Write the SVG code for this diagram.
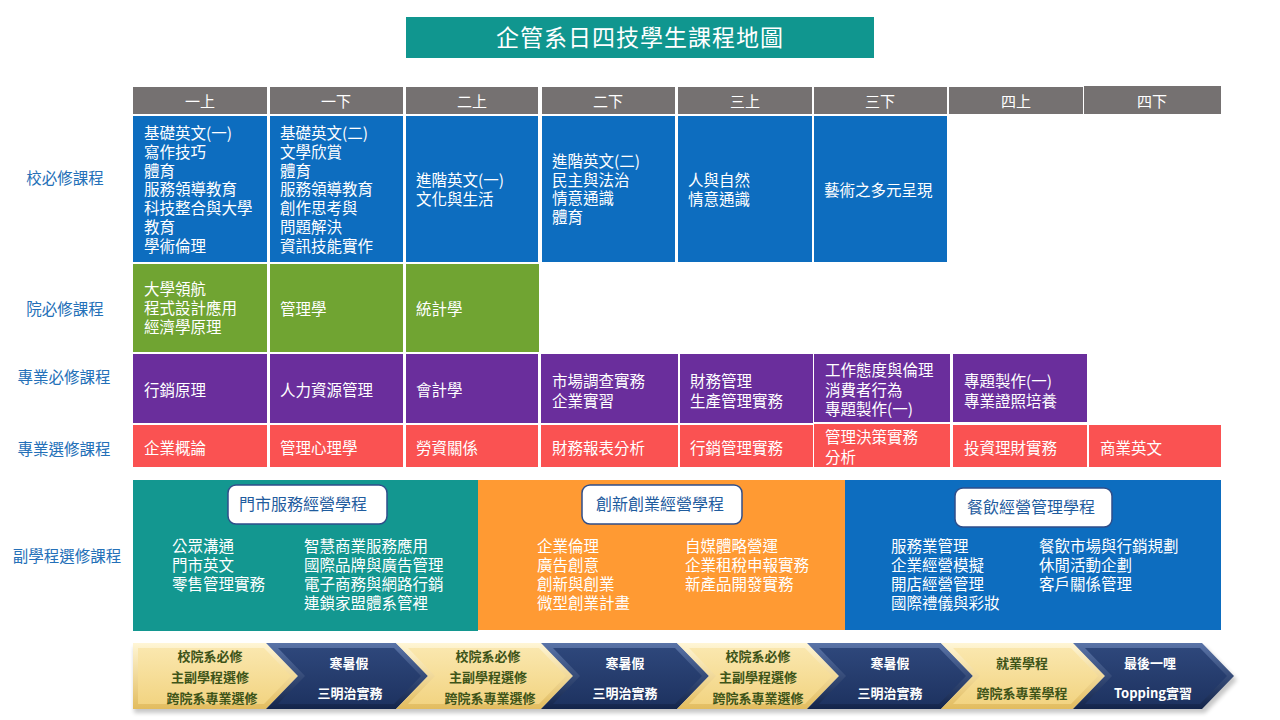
<svg xmlns="http://www.w3.org/2000/svg" width="1280" height="720" viewBox="0 0 1280 720">
<style>
text{font-family:"Noto Sans CJK TC","Noto Sans CJK SC",sans-serif;}
.w{fill:#fff;font-size:15.5px;}
.lbl{fill:#2470B8;font-size:15.5px;text-anchor:middle;}
.hd{fill:#fff;font-size:15px;text-anchor:middle;}
.pl{fill:#1F5C9E;font-size:16px;text-anchor:middle;}
.cy{fill:#3E5418;font-size:13px;font-weight:bold;text-anchor:middle;}
.cn{fill:#fff;font-size:13px;font-weight:bold;text-anchor:middle;}
.hdr{fill:#757171;}
.blue{fill:#0D6DBF;}
.green{fill:#70A432;}
.purple{fill:#6A2E9C;}
.red{fill:#FA5252;}
.pbox{fill:#fff;stroke:#2F4E8A;stroke-width:1.5;}
.yo{fill:url(#gy);}
.yf{fill:url(#gyf);}
.no{fill:url(#gn);}
.nf{fill:url(#gnf);}
</style>
<defs>
<linearGradient id="gy" x1="0" y1="0" x2="0" y2="1"><stop offset="0" stop-color="#FFF6D6"/><stop offset="1" stop-color="#E2BC5E"/></linearGradient>
<linearGradient id="gyf" x1="0" y1="0" x2="0" y2="1"><stop offset="0" stop-color="#FAE7AE"/><stop offset="1" stop-color="#F2D482"/></linearGradient>
<linearGradient id="gn" x1="0" y1="0" x2="0" y2="1"><stop offset="0" stop-color="#5A74A8"/><stop offset="1" stop-color="#13244A"/></linearGradient>
<linearGradient id="gnf" x1="0" y1="0" x2="0" y2="1"><stop offset="0" stop-color="#2E477B"/><stop offset="1" stop-color="#1E3361"/></linearGradient>
<filter id="blur" x="-5%" y="-50%" width="110%" height="200%"><feGaussianBlur stdDeviation="2"/></filter>
</defs>
<rect width="1280" height="720" fill="#fff"/>

<g id="title">
<rect x="406" y="17" width="468" height="41" fill="#10968F"/>
<text x="640" y="45.5" fill="#fff" font-size="23" letter-spacing="1" text-anchor="middle">企管系日四技學生課程地圖</text>
</g>

<g id="headers">
<rect class="hdr" x="133" y="87" width="134" height="27"/><text class="hd" x="200" y="107">一上</text>
<rect class="hdr" x="270" y="87" width="133" height="27"/><text class="hd" x="336" y="107">一下</text>
<rect class="hdr" x="406" y="87" width="132" height="27"/><text class="hd" x="472" y="107">二上</text>
<rect class="hdr" x="542" y="87" width="133" height="27"/><text class="hd" x="608" y="107">二下</text>
<rect class="hdr" x="678" y="87" width="134" height="27"/><text class="hd" x="745" y="107">三上</text>
<rect class="hdr" x="814" y="87" width="133" height="27"/><text class="hd" x="880" y="107">三下</text>
<rect class="hdr" x="949" y="87" width="134" height="27"/><text class="hd" x="1016" y="107">四上</text>
<rect class="hdr" x="1084" y="86" width="137" height="28"/><text class="hd" x="1152" y="107">四下</text>
</g>

<g id="row-labels">
<text class="lbl" x="65" y="184">校必修課程</text>
<text class="lbl" x="65" y="315">院必修課程</text>
<text class="lbl" x="64" y="383">專業必修課程</text>
<text class="lbl" x="64" y="455">專業選修課程</text>
<text class="lbl" x="67" y="562">副學程選修課程</text>
</g>

<g id="school-required">
<rect class="blue" x="133" y="116" width="134" height="146"/>
<text class="w" x="144" y="139"><tspan x="144">基礎英文(一)</tspan><tspan x="144" dy="18.8">寫作技巧</tspan><tspan x="144" dy="18.8">體育</tspan><tspan x="144" dy="18.8">服務領導教育</tspan><tspan x="144" dy="18.8">科技整合與大學</tspan><tspan x="144" dy="18.8">教育</tspan><tspan x="144" dy="18.8">學術倫理</tspan></text>
<rect class="blue" x="270" y="116" width="133" height="146"/>
<text class="w" x="280" y="139"><tspan x="280">基礎英文(二)</tspan><tspan x="280" dy="18.8">文學欣賞</tspan><tspan x="280" dy="18.8">體育</tspan><tspan x="280" dy="18.8">服務領導教育</tspan><tspan x="280" dy="18.8">創作思考與</tspan><tspan x="280" dy="18.8">問題解決</tspan><tspan x="280" dy="18.8">資訊技能實作</tspan></text>
<rect class="blue" x="406" y="116" width="132" height="146"/>
<text class="w" x="416" y="186"><tspan x="416">進階英文(一)</tspan><tspan x="416" dy="18.5">文化與生活</tspan></text>
<rect class="blue" x="542" y="116" width="133" height="146"/>
<text class="w" x="552" y="167"><tspan x="552">進階英文(二)</tspan><tspan x="552" dy="18.7">民主與法治</tspan><tspan x="552" dy="18.7">情意通識</tspan><tspan x="552" dy="18.7">體育</tspan></text>
<rect class="blue" x="678" y="116" width="134" height="146"/>
<text class="w" x="688" y="186"><tspan x="688">人與自然</tspan><tspan x="688" dy="18.5">情意通識</tspan></text>
<rect class="blue" x="814" y="116" width="133" height="146"/>
<text class="w" x="824" y="196">藝術之多元呈現</text>
</g>

<g id="college-required">
<rect class="green" x="133" y="264" width="134" height="88"/>
<text class="w" x="144" y="295"><tspan x="144">大學領航</tspan><tspan x="144" dy="19">程式設計應用</tspan><tspan x="144" dy="19">經濟學原理</tspan></text>
<rect class="green" x="270" y="264" width="133" height="88"/>
<text class="w" x="280" y="315">管理學</text>
<rect class="green" x="406" y="264" width="133" height="88"/>
<text class="w" x="416" y="315">統計學</text>
</g>

<g id="major-required">
<rect class="purple" x="133" y="354" width="134" height="69"/>
<text class="w" x="144" y="396">行銷原理</text>
<rect class="purple" x="270" y="354" width="133" height="69"/>
<text class="w" x="280" y="396">人力資源管理</text>
<rect class="purple" x="406" y="354" width="132" height="69"/>
<text class="w" x="416" y="396">會計學</text>
<rect class="purple" x="541" y="354" width="137" height="69"/>
<text class="w" x="552" y="387"><tspan x="552">市場調查實務</tspan><tspan x="552" dy="19.5">企業實習</tspan></text>
<rect class="purple" x="680" y="354" width="133" height="69"/>
<text class="w" x="690" y="387"><tspan x="690">財務管理</tspan><tspan x="690" dy="19.5">生產管理實務</tspan></text>
<rect class="purple" x="814" y="354" width="136" height="68"/>
<text class="w" x="825" y="376"><tspan x="825">工作態度與倫理</tspan><tspan x="825" dy="19.5">消費者行為</tspan><tspan x="825" dy="19.5">專題製作(一)</tspan></text>
<rect class="purple" x="953" y="354" width="134" height="68"/>
<text class="w" x="964" y="387"><tspan x="964">專題製作(一)</tspan><tspan x="964" dy="19.5">專業證照培養</tspan></text>
</g>

<g id="major-elective">
<rect class="red" x="133" y="425" width="134" height="42"/>
<text class="w" x="144" y="454">企業概論</text>
<rect class="red" x="270" y="425" width="133" height="42"/>
<text class="w" x="280" y="454">管理心理學</text>
<rect class="red" x="406" y="425" width="132" height="42"/>
<text class="w" x="416" y="454">勞資關係</text>
<rect class="red" x="541" y="425" width="137" height="42"/>
<text class="w" x="552" y="454">財務報表分析</text>
<rect class="red" x="680" y="425" width="133" height="42"/>
<text class="w" x="690" y="454">行銷管理實務</text>
<rect class="red" x="814" y="424" width="136" height="43"/>
<text class="w" x="825" y="443"><tspan x="825">管理決策實務</tspan><tspan x="825" dy="19.5">分析</tspan></text>
<rect class="red" x="953" y="425" width="134" height="42"/>
<text class="w" x="964" y="454">投資理財實務</text>
<rect class="red" x="1089" y="425" width="132" height="42"/>
<text class="w" x="1100" y="454">商業英文</text>
</g>

<g id="program-store">
<rect x="133" y="480" width="345" height="151" fill="#139790"/>
<rect class="pbox" x="228" y="485" width="159" height="39" rx="8"/>
<text class="pl" x="303" y="510">門市服務經營學程</text>
<text class="w" x="172" y="552"><tspan x="172">公眾溝通</tspan><tspan x="172" dy="19">門市英文</tspan><tspan x="172" dy="19">零售管理實務</tspan></text>
<text class="w" x="304" y="552"><tspan x="304">智慧商業服務應用</tspan><tspan x="304" dy="19">國際品牌與廣告管理</tspan><tspan x="304" dy="19">電子商務與網路行銷</tspan><tspan x="304" dy="19">連鎖家盟體系管裡</tspan></text>
</g>

<g id="program-startup">
<rect x="478" y="480" width="367" height="150" fill="#FF9A33"/>
<rect class="pbox" x="582" y="485" width="160" height="39" rx="8"/>
<text class="pl" x="660" y="510">創新創業經營學程</text>
<text class="w" x="537" y="552"><tspan x="537">企業倫理</tspan><tspan x="537" dy="19">廣告創意</tspan><tspan x="537" dy="19">創新與創業</tspan><tspan x="537" dy="19">微型創業計畫</tspan></text>
<text class="w" x="685" y="552"><tspan x="685">自媒體略營運</tspan><tspan x="685" dy="19">企業租稅申報實務</tspan><tspan x="685" dy="19">新產品開發實務</tspan></text>
</g>

<g id="program-food">
<rect x="845" y="480" width="376" height="150" fill="#0D6DBF"/>
<rect class="pbox" x="955" y="488" width="157" height="39" rx="8"/>
<text class="pl" x="1031" y="513">餐飲經營管理學程</text>
<text class="w" x="891" y="552"><tspan x="891">服務業管理</tspan><tspan x="891" dy="19">企業經營模擬</tspan><tspan x="891" dy="19">開店經營管理</tspan><tspan x="891" dy="19">國際禮儀與彩妝</tspan></text>
<text class="w" x="1039" y="552"><tspan x="1039">餐飲市場與行銷規劃</tspan><tspan x="1039" dy="19">休閒活動企劃</tspan><tspan x="1039" dy="19">客戶關係管理</tspan></text>
</g>

<g id="connectors">
<polygon points="134,647 1205,647 1237,680 1205,713 134,713" fill="#000" opacity="0.22" filter="url(#blur)"/>
</g>

<g id="chev1">
<polygon class="yo" points="133,643 266,643 298,676 266,709 133,709"/>
<polygon class="yf" points="138,648 264,648 291,676 264,704 138,704"/>
<text class="cy" x="210" y="660.5">校院系必修</text>
<text class="cy" x="210" y="681.5">主副學程選修</text>
<text class="cy" x="212" y="703">跨院系專業選修</text>
</g>
<g id="chev2">
<polygon class="no" points="266,643 396,643 428,676 396,709 266,709 298,676"/>
<polygon class="nf" points="278,648 394,648 421,676 394,704 278,704 305,676"/>
<text class="cn" x="349" y="667.5">寒暑假</text>
<text class="cn" x="350" y="697.5">三明治實務</text>
</g>
<g id="chev3">
<polygon class="yo" points="396,643 541,643 573,676 541,709 396,709 428,676"/>
<polygon class="yf" points="408,648 539,648 566,676 539,704 408,704 435,676"/>
<text class="cy" x="488" y="660.5">校院系必修</text>
<text class="cy" x="488" y="681.5">主副學程選修</text>
<text class="cy" x="490" y="703">跨院系專業選修</text>
</g>
<g id="chev4">
<polygon class="no" points="541,643 677,643 709,676 677,709 541,709 573,676"/>
<polygon class="nf" points="553,648 675,648 702,676 675,704 553,704 580,676"/>
<text class="cn" x="625" y="667.5">寒暑假</text>
<text class="cn" x="625" y="697.5">三明治實務</text>
</g>
<g id="chev5">
<polygon class="yo" points="677,643 807,643 839,676 807,709 677,709 709,676"/>
<polygon class="yf" points="689,648 805,648 832,676 805,704 689,704 716,676"/>
<text class="cy" x="758" y="660.5">校院系必修</text>
<text class="cy" x="758" y="681.5">主副學程選修</text>
<text class="cy" x="758" y="703">跨院系專業選修</text>
</g>
<g id="chev6">
<polygon class="no" points="807,643 941,643 973,676 941,709 807,709 839,676"/>
<polygon class="nf" points="819,648 939,648 966,676 939,704 819,704 846,676"/>
<text class="cn" x="890" y="667.5">寒暑假</text>
<text class="cn" x="890" y="697.5">三明治實務</text>
</g>
<g id="chev7">
<polygon class="yo" points="941,643 1073,643 1105,676 1073,709 941,709 973,676"/>
<polygon class="yf" points="953,648 1071,648 1098,676 1071,704 953,704 980,676"/>
<text class="cy" x="1022" y="667.5">就業學程</text>
<text class="cy" x="1022" y="697.5">跨院系專業學程</text>
</g>
<g id="chev8">
<polygon class="no" points="1073,643 1202,643 1234,676 1202,709 1073,709 1105,676"/>
<polygon class="nf" points="1085,648 1200,648 1227,676 1200,704 1085,704 1112,676"/>
<text class="cn" x="1150" y="667.5">最後一哩</text>
<text class="cn" x="1153" y="697.5">Topping實習</text>
</g>
</svg>
